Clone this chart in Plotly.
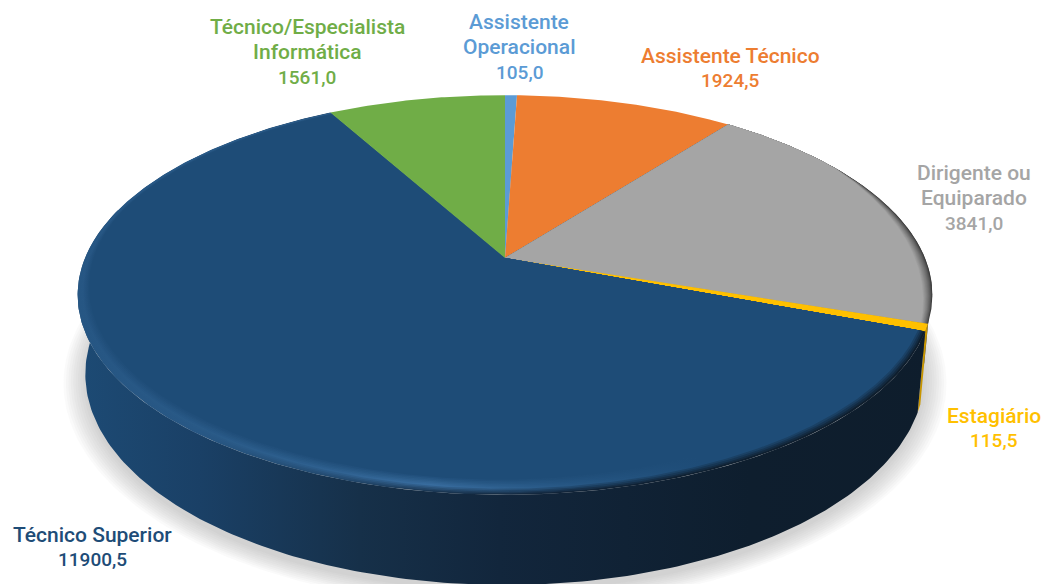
import numpy as np
import plotly.graph_objects as go

# ---- data (clockwise from 12 o'clock) ----
categories = ["Assistente<br>Operacional", "Assistente Técnico", "Dirigente ou<br>Equiparado",
              "Estagiário", "Técnico Superior", "Técnico/Especialista<br>Informática"]
values = [105.0, 1924.5, 3841.0, 115.5, 11900.5, 1561.0]
colors = ["#5B9BD5", "#ED7D31", "#A5A5A5", "#FFC000", "#1E4C77", "#70AD47"]
label_colors = ["#5B9BD5", "#ED7D31", "#A5A5A5", "#FFC000", "#1E4C77", "#70AD47"]
label_x = [519, 730, 974, 994, 92, 307]
label_y = [47, 68, 198, 428, 547, 52]

# ---- projection of the tilted disc ----
CX, CY, A, B, P = 505.0, 258.0, 420.0, 193.0, 0.185
DEPTH, FOOT = 77.0, 0.982


def rim(theta, r=1.0, drop=0.0, s=1.0):
    X, Y = r * np.sin(theta), r * np.cos(theta)
    w = 1 + P * Y
    return CX + s * A * X / w, CY - s * B * Y / w + drop / w


def hexrgb(c):
    return np.array([int(c[i:i + 2], 16) for i in (1, 3, 5)], float)


def mix(a, b, t):
    c = a + (b - a) * t
    return "rgb(%d,%d,%d)" % tuple(np.round(c))


fracs = np.array(values) / sum(values)
edges = np.concatenate([[0], np.cumsum(fracs)]) * 2 * np.pi
fig = go.Figure()


def poly(x, y, color=None, grad=None, opacity=1.0):
    kw = dict(fillgradient=grad) if grad else dict(fillcolor=color)
    fig.add_trace(go.Scatter(x=x, y=y, mode="lines", fill="toself", line=dict(width=0),
                             opacity=opacity, hoverinfo="skip", showlegend=False, **kw))


def hgrad(xs, cols):
    x0, x1 = xs[0], xs[-1]
    return dict(type="horizontal", start=x0, stop=x1,
                colorscale=[[(x - x0) / (x1 - x0), c] for x, c in zip(xs, cols)])


# soft shadow
full = np.linspace(0, 2 * np.pi, 361)
for e in np.linspace(0.05, 0.0, 10):
    x, y = rim(full, r=1 + e, drop=DEPTH + 5, s=FOOT)
    poly(x, y, color="#808080", opacity=0.045)

# walls
def wall(t0, t1, **kw):
    th = np.linspace(t0, t1, 200)
    xt, yt = rim(th)
    xb, yb = rim(th[::-1], drop=DEPTH, s=FOOT)
    poly(np.r_[xt, xb], np.r_[yt, yb], **kw)


wx = [70, 200, 360, 500, 750, 940]
wc_blue = ["#1D4B75", "#1A4066", "#163049", "#12263C", "#0E1E2E", "#0E1D2C"]
wall(edges[2], np.radians(98), color="#4A4A4A")
wall(edges[3], edges[4], color="#C79500")
wall(edges[4], np.radians(285), grad=hgrad(wx, wc_blue))

# top faces, with a bevel made of nested layers
base = hexrgb("#1E4C77")
hl = hexrgb("#4A82B8")
hx = np.array([70, 200, 330, 430, 560, 700, 940], float)
hs = np.array([.18, .25, .38, .60, .22, .0, .0])
lift = np.array([1.0, .9, .5, .2, .0, .0, .0])  # how far the outer bevel edge is lightened
wall_rgb = [hexrgb(c) for c in wc_blue]
N_LAYERS = 10


def blue_colors(t):
    out = []
    for x, h, l in zip(hx, hs, lift):
        w = np.array([np.interp(x, wx, [c[i] for c in wall_rgb]) for i in range(3)])
        top = base + (hl - base) * h
        w = w + (top - w) * l
        if t < .4:
            out.append(mix(w, top, t / .4))
        else:
            out.append(mix(top, base, (t - .4) / .6))
    return out


for i, (v, col) in enumerate(zip(values, colors)):
    th = np.linspace(edges[i], edges[i + 1], max(int((edges[i + 1] - edges[i]) * 120), 8))
    if col == "#1E4C77":
        for k in range(N_LAYERS + 1):
            t = k / N_LAYERS
            Y = np.cos(th)
            bev = 0.012 + 0.040 * np.clip(-Y + 0.25, 0, 1.25) / 1.25 * (1.0 + 0.5 * np.sin(th).clip(0))
            x, y = rim(th, r=1 - t * bev)
            poly(np.r_[CX, x, CX], np.r_[CY, y, CY], grad=hgrad(list(hx), blue_colors(t)))
    elif col == "#A5A5A5":
        dark, c = hexrgb("#3C3C3C"), hexrgb(col)
        for k in range(N_LAYERS + 1):
            t = k / N_LAYERS
            bev = 0.024 * np.clip(np.sin(th) - 0.85, 0, 1) / 0.15
            x, y = rim(th, r=1 - t * bev)
            poly(np.r_[CX, x, CX], np.r_[CY, y, CY], color=mix(dark, c, t ** .7))
    else:
        x, y = rim(th)
        poly(np.r_[CX, x, CX], np.r_[CY, y, CY], color=col)

# labels: one annotation per line, 25 px apart
LINE = 25
for cat, v, c, lx, ly in zip(categories, values, label_colors, label_x, label_y):
    lines = cat.split("<br>") + [f"{v:.1f}".replace(".", ",")]
    for n, line in enumerate(lines):
        size = 19 if n == len(lines) - 1 else 21
        fig.add_annotation(x=lx, y=ly + (n - (len(lines) - 1) / 2) * LINE, text=line, showarrow=False,
                           xanchor="center", yanchor="middle", align="center",
                           font=dict(family="Roboto", size=size, color=c, weight=500))

fig.update_layout(width=1046, height=584, margin=dict(l=0, r=0, t=0, b=0),
                  paper_bgcolor="white", plot_bgcolor="white", showlegend=False,
                  xaxis=dict(range=[0, 1046], visible=False, fixedrange=True),
                  yaxis=dict(range=[584, 0], visible=False, fixedrange=True))
fig.write_html("out.html", config=dict(displayModeBar=False),
               post_script="document.body.style.margin='0';document.body.style.overflow='hidden';")
